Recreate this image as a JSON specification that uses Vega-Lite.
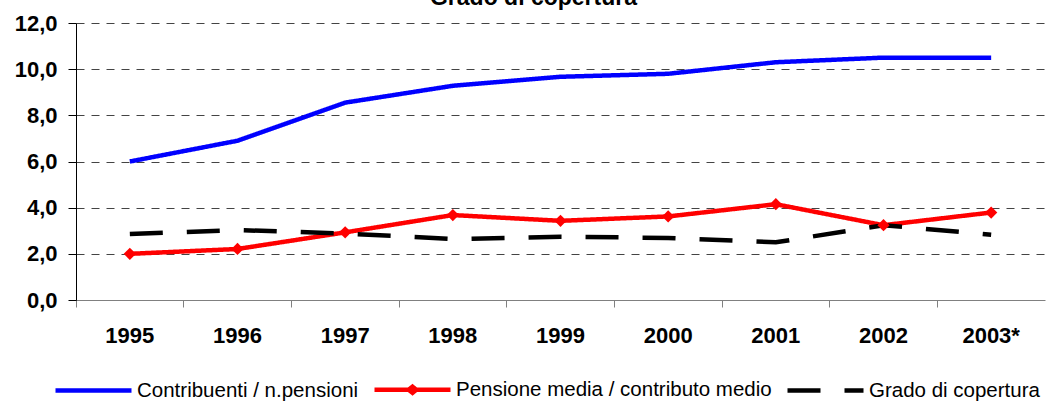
{
  "$schema": "https://vega.github.io/schema/vega-lite/v6.json",
  "autosize": "none",
  "width": 969,
  "height": 277,
  "padding": {"left": 76, "top": 23, "right": 10, "bottom": 101},
  "background": "#ffffff",
  "title": {
    "text": "Grado di copertura",
    "font": "Liberation Sans, Arial, sans-serif",
    "fontSize": 23,
    "fontWeight": "bold",
    "color": "#000000",
    "anchor": "middle",
    "baseline": "alphabetic",
    "offset": 0,
    "dx": -27,
    "dy": 16
  },
  "data": {
    "values": [
      {"year": "1995", "series": "Contribuenti / n.pensioni", "value": 6.0},
      {"year": "1996", "series": "Contribuenti / n.pensioni", "value": 6.9},
      {"year": "1997", "series": "Contribuenti / n.pensioni", "value": 8.55},
      {"year": "1998", "series": "Contribuenti / n.pensioni", "value": 9.28},
      {"year": "1999", "series": "Contribuenti / n.pensioni", "value": 9.67},
      {"year": "2000", "series": "Contribuenti / n.pensioni", "value": 9.8},
      {"year": "2001", "series": "Contribuenti / n.pensioni", "value": 10.3},
      {"year": "2002", "series": "Contribuenti / n.pensioni", "value": 10.5},
      {"year": "2003*", "series": "Contribuenti / n.pensioni", "value": 10.5},
      {"year": "1995", "series": "Pensione media / contributo medio", "value": 2.0},
      {"year": "1996", "series": "Pensione media / contributo medio", "value": 2.21},
      {"year": "1997", "series": "Pensione media / contributo medio", "value": 2.93},
      {"year": "1998", "series": "Pensione media / contributo medio", "value": 3.68},
      {"year": "1999", "series": "Pensione media / contributo medio", "value": 3.43},
      {"year": "2000", "series": "Pensione media / contributo medio", "value": 3.62},
      {"year": "2001", "series": "Pensione media / contributo medio", "value": 4.15},
      {"year": "2002", "series": "Pensione media / contributo medio", "value": 3.24},
      {"year": "2003*", "series": "Pensione media / contributo medio", "value": 3.79},
      {"year": "1995", "series": "Grado di copertura", "value": 2.86},
      {"year": "1996", "series": "Grado di copertura", "value": 3.03},
      {"year": "1997", "series": "Grado di copertura", "value": 2.88},
      {"year": "1998", "series": "Grado di copertura", "value": 2.64},
      {"year": "1999", "series": "Grado di copertura", "value": 2.74},
      {"year": "2000", "series": "Grado di copertura", "value": 2.69},
      {"year": "2001", "series": "Grado di copertura", "value": 2.5},
      {"year": "2002", "series": "Grado di copertura", "value": 3.24},
      {"year": "2003*", "series": "Grado di copertura", "value": 2.83}
    ]
  },
  "encoding": {
    "x": {
      "field": "year",
      "type": "nominal",
      "sort": null,
      "scale": {"type": "band", "paddingInner": 0, "paddingOuter": 0},
      "axis": {
        "title": null,
        "labelAngle": 0,
        "labelFont": "Liberation Sans, Arial, sans-serif",
        "labelFontSize": 22,
        "labelFontWeight": "bold",
        "labelColor": "#000000",
        "labelPadding": 18,
        "tickSize": 7,
        "tickColor": "#808080",
        "domainColor": "#808080",
        "bandPosition": 0,
        "grid": false
      }
    },
    "y": {
      "field": "value",
      "type": "quantitative",
      "scale": {"domain": [0, 12], "nice": false, "zero": true},
      "axis": {
        "title": null,
        "values": [0, 2, 4, 6, 8, 10, 12],
        "labelExpr": "replace(format(datum.value, '.1f'), '.', ',')",
        "labelFont": "Liberation Sans, Arial, sans-serif",
        "labelFontSize": 22,
        "labelFontWeight": "bold",
        "labelColor": "#000000",
        "labelPadding": 11,
        "tickSize": 8,
        "tickColor": "#000000",
        "domainColor": "#000000",
        "grid": true,
        "gridColor": "#444444",
        "gridDash": [8, 7],
        "gridWidth": 1
      }
    }
  },
  "layer": [
    {
      "mark": {"type": "line", "strokeWidth": 4.5, "strokeCap": "butt"},
      "encoding": {
        "color": {
          "field": "series",
          "type": "nominal",
          "sort": null,
          "scale": {
            "domain": ["Contribuenti / n.pensioni", "Pensione media / contributo medio", "Grado di copertura"],
            "range": ["#0000FF", "#FF0000", "#000000"]
          },
          "legend": {
            "orient": "none",
            "legendX": -23,
            "legendY": 326,
            "direction": "horizontal",
            "title": null,
            "symbolType": "stroke",
            "symbolSize": 5776,
            "symbolStrokeWidth": 4.5,
            "labelFont": "Liberation Sans, Arial, sans-serif",
            "labelFontSize": 20.5,
            "labelColor": "#000000",
            "labelOffset": 3,
            "columnPadding": 6,
            "labelLimit": 400,
            "encoding": {
              "symbols": {
                "shape": {
                  "condition": {
                    "test": "datum.value === 'Pensione media / contributo medio'",
                    "value": "M-1,0H1M-0.1,0L0,-0.08L0.1,0L0,0.08Z"
                  },
                  "value": "stroke"
                }
              }
            }
          }
        },
        "strokeDash": {
          "field": "series",
          "type": "nominal",
          "sort": null,
          "scale": {
            "domain": ["Contribuenti / n.pensioni", "Pensione media / contributo medio", "Grado di copertura"],
            "range": [[1, 0], [1, 0], [33, 24]]
          }
        }
      }
    },
    {
      "transform": [{"filter": "datum.series === 'Pensione media / contributo medio'"}],
      "mark": {"type": "point", "shape": "diamond", "filled": true, "size": 150, "color": "#FF0000", "opacity": 1},
      "encoding": {}
    }
  ],
  "config": {
    "view": {"stroke": null},
    "font": "Liberation Sans, Arial, sans-serif"
  }
}
